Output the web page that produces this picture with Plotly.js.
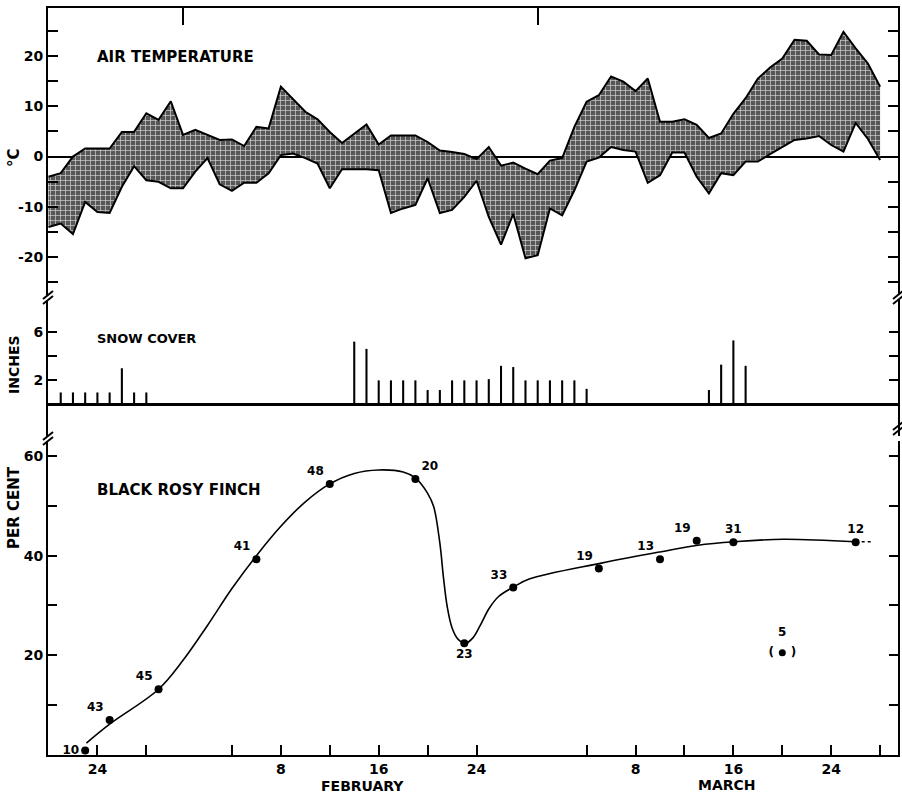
<!DOCTYPE html>
<html>
<head>
<meta charset="utf-8">
<script src="https://cdn.plot.ly/plotly-3.0.1.min.js"></script>
<style>
html,body{margin:0;padding:0;background:#fff;}
#chart{width:902px;height:797px;}
</style>
</head>
<body>
<div id="chart"></div>
<script>
// Day index: 0 = Jan 31 (month boundary), Feb d = d, Mar d = 29 + d (leap year), Jan d = d - 31
const tempDay = [-11,-10,-9,-8,-7,-6,-5,-4,-3,-2,-1,0,1,2,3,4,5,6,7,8,9,10,11,12,13,14,15,16,17,18,19,20,21,22,23,24,25,26,27,28,29,30,31,32,33,34,35,36,37,38,39,40,41,42,43,44,45,46,47,48,49,50,51,52,53,54,55,56,57];
const tempMax = [-4.0,-3.3,0.0,1.6,1.6,1.6,4.9,4.9,8.6,7.3,11.0,4.3,5.3,4.3,3.3,3.4,2.1,5.9,5.6,13.9,11.3,8.9,7.4,4.9,2.7,4.6,6.4,2.4,4.2,4.2,4.2,2.9,1.2,0.9,0.5,-0.5,1.9,-1.8,-1.2,-2.4,-3.5,-0.8,-0.3,5.9,10.9,12.2,15.9,14.9,13.0,15.5,6.9,6.9,7.4,6.3,3.7,4.6,8.5,11.6,15.5,17.7,19.5,23.2,23.0,20.3,20.2,24.8,21.5,18.5,13.9];
const tempMin = [-14.0,-13.3,-15.4,-9.0,-11.0,-11.2,-6.0,-1.9,-4.7,-5.0,-6.3,-6.3,-3.0,-0.3,-5.5,-6.8,-5.2,-5.2,-3.3,0.3,0.6,-0.3,-1.4,-6.3,-2.5,-2.5,-2.5,-2.7,-11.2,-10.3,-9.6,-4.3,-11.2,-10.6,-8.0,-4.8,-12.0,-17.5,-11.4,-20.2,-19.6,-10.3,-11.7,-6.7,-1.0,-0.2,1.9,1.3,1.0,-5.2,-3.7,0.8,0.8,-4.0,-7.3,-3.3,-3.7,-1.0,-1.0,0.5,1.9,3.3,3.6,4.1,2.3,1.0,6.7,3.5,-0.7];

const snowDay = [-10,-9,-8,-7,-6,-5,-4,-3,14,15,16,17,18,19,20,21,22,23,24,25,26,27,28,29,30,31,32,33,43,44,45,46];
const snowInches = [1,1,1,1,1,3,1,1,5.2,4.6,2,2,2,2,1.2,1.2,2,2,2,2.1,3.2,3.1,2,2,2,2,2,1.3,1.2,3.3,5.3,3.2];

const finchDay = [-8,-6,-2,6,12,19,23,27,34,39,42,45,55];
const finchPct = [0.9,7.0,13.2,39.3,54.4,55.4,22.4,33.6,37.4,39.3,43.0,42.7,42.7];
const finchN = ['10','43','45','41','48','20','23','33','19','13','19','31','12'];
const outlierDay = [49];
const outlierPct = [20.5];
const outlierN = ['5'];

// hand-fitted smooth curve
const curveDay = [-7.9,-6.0,-2.0,0.0,2.0,4.0,6.0,8.0,10.0,12.0,14.0,16.0,18.0,19.0,20.0,20.5,21.0,21.3,21.6,22.0,22.5,23.1,23.7,24.3,25.0,25.8,27.1,28.3,34.2,39.1,42.1,45.1,49.1,55.0];
const curvePct = [2.4,6.2,13.2,19.0,26.0,33.4,40.0,45.9,50.8,54.4,56.5,57.2,56.8,55.6,52.5,49.8,42.5,35.5,29.8,25.5,23.2,22.4,23.5,26.0,29.3,31.8,33.8,35.3,38.5,40.8,42.1,42.8,43.3,42.8];
const curveTailDay = [55.0,56.3];
const curveTailPct = [42.8,42.8];

const tickDays = [-7,-3,4,8,12,16,20,24,33,37,41,45,49,53,57];
const tickText = ['24','','','8','','16','','24','','8','','16','','24',''];
const monthDays = [0,29];
const tempTicks = [-20,-10,0,10,20];
const tempTickText = ['-20','-10','0','10','20'];
const snowTicks = [2,4,6];
const snowTickText = ['2','','6'];
const finchTicks = [10,20,30,40,50,60];
const finchTickText = ['','20','','40','','60'];

const FONT = 'DejaVu Sans, Liberation Sans, sans-serif';
const XR = [-11.04, 58.46];

const traces = [
  {x: tempDay, y: tempMin, xaxis:'x', yaxis:'y', mode:'lines', line:{color:'#000', width:2}, hoverinfo:'skip', showlegend:false},
  {x: tempDay, y: tempMax, xaxis:'x', yaxis:'y', mode:'lines', line:{color:'#000', width:2}, fill:'tonexty',
   fillcolor:'#5a5a5a', fillpattern:{shape:'+', fgcolor:'#d4d4d4', bgcolor:'#575757', size:5, solidity:0.25},
   hoverinfo:'skip', showlegend:false},
  {type:'bar', x: snowDay, y: snowInches, xaxis:'x2', yaxis:'y2', width:0.17,
   marker:{color:'#000', line:{width:0}}, hoverinfo:'skip', showlegend:false},
  {x: curveDay, y: curvePct, xaxis:'x3', yaxis:'y3', mode:'lines', line:{color:'#000', width:1.6, shape:'spline', smoothing:1},
   hoverinfo:'skip', showlegend:false},
  {x: curveTailDay, y: curveTailPct, xaxis:'x3', yaxis:'y3', mode:'lines', line:{color:'#000', width:1.6, dash:'3px,3px'},
   hoverinfo:'skip', showlegend:false},
  {x: finchDay, y: finchPct, xaxis:'x3', yaxis:'y3', mode:'markers+text', text: finchN,
   textposition:['middle left','top left','top left','top left','top left','top right','bottom center','top left','top left','top left','top left','top center','top center'],
   textfont:{family:FONT, size:12, color:'#000', weight:'bold'},
   marker:{color:'#000', size:8}, cliponaxis:false, hoverinfo:'skip', showlegend:false},
  {x: outlierDay, y: outlierPct, xaxis:'x3', yaxis:'y3', mode:'markers', marker:{color:'#000', size:7}, hoverinfo:'skip', showlegend:false},
  {x: outlierDay, y: outlierPct, xaxis:'x3', yaxis:'y3', mode:'text', text:['(    )'], textposition:'middle center',
   textfont:{family:FONT, size:12, color:'#000', weight:'bold'}, hoverinfo:'skip', showlegend:false},
  {x: outlierDay, y: outlierPct, xaxis:'x3', yaxis:'y3', mode:'markers+text', text: outlierN, textposition:'top center',
   textfont:{family:FONT, size:12, color:'#000', weight:'bold'},
   marker:{color:'rgba(0,0,0,0)', size:20}, hoverinfo:'skip', showlegend:false}
];

const axisFont = {family:FONT, size:14, color:'#000', weight:'bold'};

function px2paperX(px){ return (px-48)/850; }
function px2paperY(py){ return (755-py)/747; }
function breakMark(px, py){
  return [
    {type:'line', xref:'paper', yref:'paper', x0:px2paperX(px-5), y0:px2paperY(py+2), x1:px2paperX(px+5), y1:px2paperY(py-6), line:{color:'#000', width:2}},
    {type:'line', xref:'paper', yref:'paper', x0:px2paperX(px-5), y0:px2paperY(py+7), x1:px2paperX(px+5), y1:px2paperY(py-1), line:{color:'#000', width:2}}
  ];
}
const shapes = [].concat(breakMark(48,297), breakMark(48,438), breakMark(898,297), breakMark(898,428));

const layout = {
  width:902, height:797,
  margin:{l:48, r:4, t:8, b:42},
  paper_bgcolor:'#fff', plot_bgcolor:'rgba(0,0,0,0)',
  showlegend:false,
  font:{family:FONT, color:'#000'},
  xaxis:{domain:[0,1], range:XR, anchor:'y', side:'top', showline:true, linewidth:2, linecolor:'#000',
    tickmode:'array', tickvals:monthDays, ticks:'inside', ticklen:17, tickwidth:2, tickcolor:'#000',
    showticklabels:false, showgrid:false, zeroline:false, mirror:false},
  yaxis:{domain:[0.6158,1], range:[-27.5,29.52], anchor:'x', showline:true, linewidth:2, linecolor:'#000',
    tickmode:'array', tickvals:tempTicks, ticktext:tempTickText, ticks:'inside', ticklen:10, tickwidth:2, tickcolor:'#000',
    minor:{dtick:5, tick0:0, ticks:'inside', ticklen:10, tickwidth:2, tickcolor:'#000', showgrid:false},
    tickfont:axisFont, showgrid:false, zeroline:true, zerolinewidth:2, zerolinecolor:'#000', mirror:'ticks'},
  xaxis2:{domain:[0,1], range:XR, anchor:'y2', matches:'x', visible:false},
  yaxis2:{domain:[0.4270,0.6091], range:[-2.6,8.64], anchor:'x2', showline:true, linewidth:2, linecolor:'#000',
    tickmode:'array', tickvals:snowTicks, ticktext:snowTickText, ticks:'inside', ticklen:9, tickwidth:2, tickcolor:'#000',
    tickfont:axisFont, showgrid:false, zeroline:true, zerolinewidth:2.5, zerolinecolor:'#000', mirror:'ticks'},
  xaxis3:{domain:[0,1], range:XR, anchor:'y3', matches:'x', showline:true, linewidth:2, linecolor:'#000',
    tickmode:'array', tickvals:tickDays, ticktext:tickText, ticks:'inside', ticklen:10, tickwidth:2, tickcolor:'#000',
    tickfont:axisFont, showgrid:false, zeroline:false, mirror:false},
  xaxis4:{range:XR, overlaying:'x3', anchor:'y3', side:'bottom', showline:false,
    tickmode:'array', tickvals:monthDays, ticks:'outside', ticklen:8, tickwidth:2, tickcolor:'#000',
    showticklabels:false, showgrid:false, zeroline:false},
  xaxis5:{range:XR, overlaying:'x3', anchor:'y3', side:'bottom', showline:false,
    tickmode:'array', tickvals:monthDays, ticks:'inside', ticklen:16, tickwidth:2, tickcolor:'#000',
    showticklabels:false, showgrid:false, zeroline:false},
  yaxis3:{domain:[0,0.4203], range:[0,63.0], anchor:'x3', showline:true, linewidth:2, linecolor:'#000',
    tickmode:'array', tickvals:finchTicks, ticktext:finchTickText, ticks:'inside', ticklen:9, tickwidth:2, tickcolor:'#000',
    tickfont:axisFont, showgrid:false, zeroline:false, mirror:'ticks'},
  shapes: shapes,
  annotations:[
    {xref:'x', yref:'y', x:-7.2, y:19.8, xanchor:'left', yanchor:'middle', text:'AIR TEMPERATURE', showarrow:false, font:{family:FONT, size:15, color:'#000', weight:'bold'}},
    {xref:'x2', yref:'y2', x:-7.2, y:5.5, xanchor:'left', yanchor:'middle', text:'SNOW COVER', showarrow:false, font:{family:FONT, size:13, color:'#000', weight:'bold'}},
    {xref:'x3', yref:'y3', x:-7.2, y:53.2, xanchor:'left', yanchor:'middle', text:'BLACK ROSY FINCH', showarrow:false, font:{family:FONT, size:15, color:'#000', weight:'bold'}},
    {xref:'x3', yref:'paper', x:14.7, y:px2paperY(776), xanchor:'center', yanchor:'top', text:'FEBRUARY', showarrow:false, font:{family:FONT, size:14, color:'#000', weight:'bold'}},
    {xref:'x3', yref:'paper', x:44.5, y:px2paperY(775), xanchor:'center', yanchor:'top', text:'MARCH', showarrow:false, font:{family:FONT, size:14, color:'#000', weight:'bold'}},
    {xref:'paper', yref:'paper', x:px2paperX(14), y:px2paperY(158), xanchor:'center', yanchor:'middle', textangle:-90, text:'°C', showarrow:false, font:{family:FONT, size:15, color:'#000', weight:'bold'}},
    {xref:'paper', yref:'paper', x:px2paperX(14), y:px2paperY(365), xanchor:'center', yanchor:'middle', textangle:-90, text:'INCHES', showarrow:false, font:{family:FONT, size:14, color:'#000', weight:'bold'}},
    {xref:'paper', yref:'paper', x:px2paperX(14), y:px2paperY(508), xanchor:'center', yanchor:'middle', textangle:-90, text:'PER CENT', showarrow:false, font:{family:FONT, size:15, color:'#000', weight:'bold'}}
  ]
};

Plotly.newPlot('chart', traces, layout, {staticPlot:true, displayModeBar:false});
</script>
</body>
</html>
